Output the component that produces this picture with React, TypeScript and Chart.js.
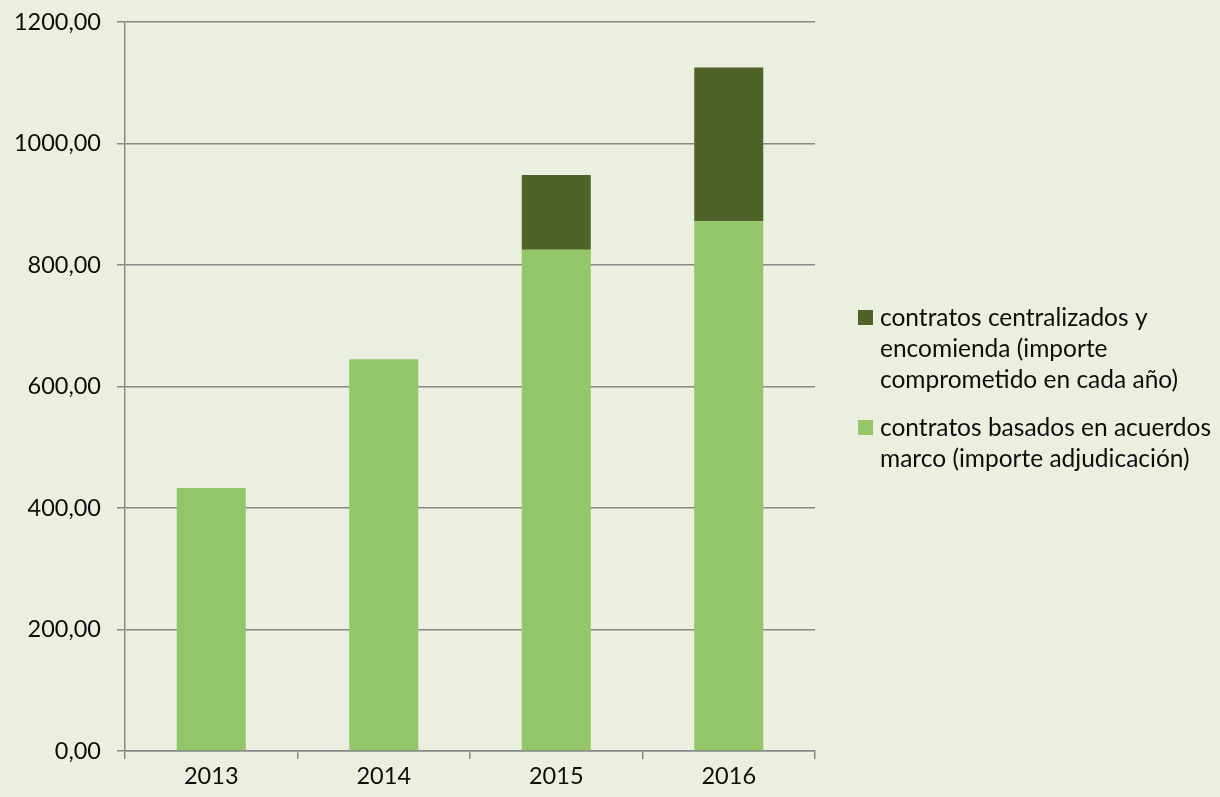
import React, { useEffect, useRef } from "react";
import { Chart, registerables } from "chart.js";

Chart.register(...registerables);

const years = ["2013", "2014", "2015", "2016"];
const basadosValues = [433, 645, 825, 872];
const centralizadosValues = [0, 0, 123, 253];
const seriesLabels = [
  "contratos centralizados y encomienda (importe comprometido en cada año)",
  "contratos basados en acuerdos marco (importe adjudicación)",
];
const legendLines = [
  ["contratos centralizados y", "encomienda (importe", "comprometido en cada año)"],
  ["contratos basados en acuerdos", "marco (importe adjudicación)"],
];
const yMin = 0;
const yMax = 1200;
const yStep = 200;

const BG = "#EBEFDF";
const LIGHT = "#93C569";
const DARK = "#4F6228";
const AXIS = "#888888";
const FONT = "Lato";

const legendPlugin = {
  id: "wrapLegend",
  afterDraw(chart: any) {
    const ctx = chart.ctx;
    const area = chart.chartArea;
    const x0 = area.right + 43;
    const colors = [DARK, LIGHT];
    const startY = [318, 428];
    ctx.save();
    ctx.font = `24.5px ${FONT}`;
    ctx.textBaseline = "middle";
    legendLines.forEach((lines, i) => {
      ctx.fillStyle = colors[i];
      ctx.fillRect(x0, startY[i] - 8, 15, 15);
      ctx.fillStyle = "#0d0d0d";
      lines.forEach((ln, j) => {
        ctx.fillText(ln, x0 + 22, startY[i] + j * 31);
      });
    });
    ctx.restore();
  },
};

export default function App() {
  const ref = useRef<HTMLCanvasElement>(null);
  useEffect(() => {
    if (!ref.current) return;
    const chart = new Chart(ref.current, {
      type: "bar",
      data: {
        labels: years,
        datasets: [
          {
            label: seriesLabels[1],
            data: basadosValues,
            backgroundColor: LIGHT,
            borderWidth: 0,
            stack: "s",
          },
          {
            label: seriesLabels[0],
            data: centralizadosValues,
            backgroundColor: DARK,
            borderWidth: 0,
            stack: "s",
          },
        ],
      },
      options: {
        responsive: false,
        animation: false,
        devicePixelRatio: 1,
        layout: { padding: { left: 0, right: 405, top: 22, bottom: 0 } },
        plugins: {
          legend: { display: false },
          tooltip: { enabled: false },
          title: { display: false },
        },
        datasets: {
          bar: { categoryPercentage: 1, barPercentage: 0.4 },
        },
        scales: {
          x: {
            stacked: true,
            grid: {
              display: true,
              offset: true,
              drawOnChartArea: false,
              drawTicks: true,
              tickLength: 8,
              color: AXIS,
              lineWidth: 1.5,
            },
            border: { display: true, color: AXIS, width: 1.5 },
            ticks: {
              color: "#0d0d0d",
              font: { family: FONT, size: 23.5 },
              padding: 3,
            },
            afterFit(scale: any) {
              scale.height = 46;
              scale.paddingLeft = 0;
              scale.paddingRight = 0;
            },
          },
          y: {
            stacked: true,
            min: yMin,
            max: yMax,
            grid: {
              color: AXIS,
              lineWidth: 1.5,
              tickLength: 8,
              drawTicks: true,
            },
            border: { display: true, color: AXIS, width: 1.5 },
            ticks: {
              stepSize: yStep,
              color: "#0d0d0d",
              font: { family: FONT, size: 23.5 },
              padding: 16,
              callback: (v: any) => Number(v).toFixed(2).replace(".", ","),
            },
            afterFit(scale: any) {
              scale.width = 125;
              scale.paddingTop = 0;
              scale.paddingBottom = 0;
            },
          },
        },
      },
      plugins: [legendPlugin],
    });
    return () => chart.destroy();
  }, []);
  return (
    <div
      style={{
        position: "absolute",
        left: 0,
        top: 0,
        width: 1220,
        height: 797,
        background: BG,
      }}
    >
      <canvas ref={ref} width={1220} height={797} style={{ display: "block" }} />
    </div>
  );
}
